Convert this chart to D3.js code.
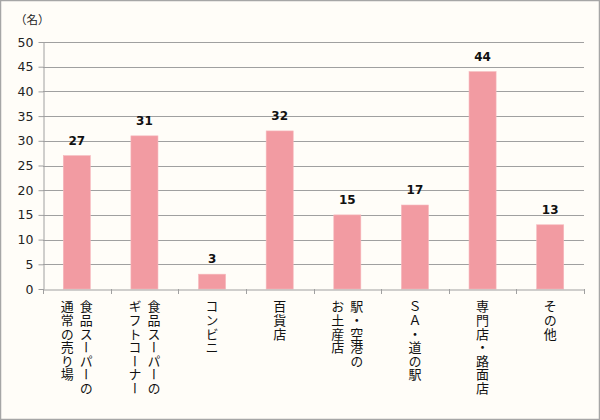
<!DOCTYPE html>
<html><head><meta charset="utf-8">
<script src="https://cdn.jsdelivr.net/npm/d3@7"></script>
<style>html,body{margin:0;padding:0;background:#fff;}</style>
</head><body>
<svg id="c" width="600" height="420"></svg>
<script>
const categories = [
  ["食品スーパーの","通常の売り場"],
  ["食品スーパーの","ギフトコーナー"],
  ["コンビニ"],
  ["百貨店"],
  ["駅・空港の","お土産店"],
  ["ＳＡ・道の駅"],
  ["専門店・路面店"],
  ["その他"]
];
const values = [27, 31, 3, 32, 15, 17, 44, 13];
const yTicks = [0,5,10,15,20,25,30,35,40,45,50];
const unitLabel = "（名）";

const svg = d3.select("#c");
const font = "'Noto Sans CJK JP', 'Noto Sans', sans-serif";
const numFont = "'DejaVu Sans', Verdana, sans-serif";
svg.append("rect").attr("x",0.5).attr("y",0.5).attr("width",599).attr("height",419)
  .attr("fill","#FFFDF8").attr("stroke","#A6A6A6").attr("stroke-width",1.5);

const m = {left:43, right:584, top:42, bottom:289};
const x = d3.scaleBand().domain(d3.range(categories.length)).range([m.left, m.right]).paddingInner(0.6).paddingOuter(0.3);
const xb = d3.scaleBand().domain(d3.range(categories.length)).range([m.left, m.right]);
const y = d3.scaleLinear().domain([0,50]).range([m.bottom, m.top]);

// gridlines
svg.append("g").selectAll("line").data(yTicks.filter(d=>d>0)).join("line")
  .attr("x1",m.left).attr("x2",m.right).attr("y1",d=>Math.round(y(d))+0.5).attr("y2",d=>Math.round(y(d))+0.5)
  .attr("stroke","#A0A0A0").attr("stroke-width",1);

// y axis
const ya = svg.append("g").attr("transform",`translate(${m.left+0.5},0)`)
  .call(d3.axisLeft(y).tickValues(yTicks).tickSize(5).tickSizeOuter(0));
ya.select(".domain").attr("stroke","#A0A0A0");
ya.selectAll(".tick line").attr("stroke","#A0A0A0");
ya.selectAll(".tick text").attr("font-family",numFont).attr("font-size",12.5).attr("fill","#222").attr("x",-10);

// bars
svg.append("g").selectAll("rect").data(values).join("rect")
  .attr("x",(d,i)=>x(i)).attr("width",x.bandwidth())
  .attr("y",d=>y(d)).attr("height",d=>y(0)-y(d))
  .attr("fill","#F29BA2").attr("stroke","#F6B8BD").attr("stroke-width",0.6);

// value labels
svg.append("g").selectAll("text").data(values).join("text")
  .attr("x",(d,i)=>x(i)+x.bandwidth()/2).attr("y",d=>y(d)-11)
  .attr("text-anchor","middle").attr("font-family",numFont).attr("font-weight","bold")
  .attr("font-size",12).attr("fill","#111").text(d=>d);

// x axis
const xa = svg.append("g").attr("transform",`translate(0,${m.bottom+0.5})`)
  .call(d3.axisBottom(xb).tickSize(0).tickFormat(""));
xa.select(".domain").attr("stroke","#A0A0A0");
svg.append("g").selectAll("line").data(d3.range(categories.length+1)).join("line")
  .attr("x1",i=>Math.round(m.left+i*xb.step())+0.5).attr("x2",i=>Math.round(m.left+i*xb.step())+0.5)
  .attr("y1",m.bottom).attr("y2",m.bottom+5).attr("stroke","#A0A0A0");

// category labels (vertical writing mode, one text per column)
const lg = svg.append("g");
categories.forEach((lines,i)=>{
  const cx = xb(i)+xb.bandwidth()/2;
  const n = lines.length, gap = 19;
  lines.forEach((t,j)=>{
    const lx = cx + ((n-1)/2 - j)*gap;
    lg.append("text").attr("x",lx).attr("y",300)
      .attr("font-family",font).attr("font-size",13).attr("fill","#111")
      .style("writing-mode","vertical-rl")
      .style("letter-spacing","0.6px")
      .text(t);
  });
});

svg.append("text").attr("x",15).attr("y",24).attr("font-family",font).attr("font-size",11.5)
  .attr("fill","#222").text(unitLabel);
</script>
</body></html>
